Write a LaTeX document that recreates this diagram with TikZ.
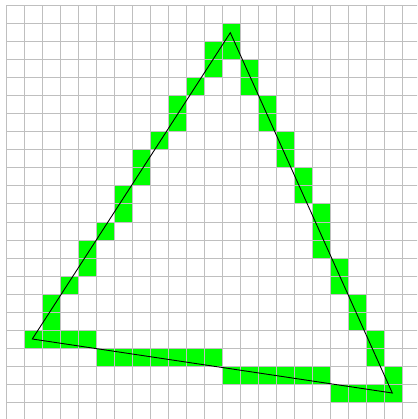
\documentclass[tikz,border=0pt]{standalone}
\begin{document}
\begin{tikzpicture}[x=1pt,y=-1pt,
  gridline/.style={draw=gray!50,line width=1pt},
  cell/.style={fill=green},
  edge/.style={draw=black,line width=0.9pt,line join=miter}]
\useasboundingbox (0,0) rectangle (417,419);
\fill[white] (0,0) rectangle (417,419);
\clip (0,0) rectangle (417,419);
% grid
\foreach \k in {0,...,23} {
  \draw[gridline] ({6+18*\k},6) -- ({6+18*\k},425);
  \draw[gridline] (6,{6+18*\k}) -- (425,{6+18*\k});
}
% green cells
\foreach \c/\r in {12/1,11/2,12/2,11/3,13/3,10/4,13/4,9/5,14/5,9/6,14/6,8/7,15/7,
  7/8,15/8,7/9,16/9,6/10,16/10,6/11,17/11,5/12,17/12,4/13,17/13,4/14,18/14,
  3/15,18/15,2/16,19/16,2/17,19/17,1/18,2/18,3/18,4/18,20/18,
  5/19,6/19,7/19,8/19,9/19,10/19,11/19,20/19,
  12/20,13/20,14/20,15/20,16/20,17/20,21/20,
  18/21,19/21,20/21,21/21} {
  \fill[cell] ({6.5+18*\c},{6.5+18*\r}) rectangle ({23.5+18*\c},{23.5+18*\r});
}
% triangle
\coordinate (A) at (230.3,32.7);
\coordinate (B) at (32.3,339);
\coordinate (C) at (392.3,393);
\draw[edge] (A) -- (B) -- (C) -- cycle;
\end{tikzpicture}
\end{document}
